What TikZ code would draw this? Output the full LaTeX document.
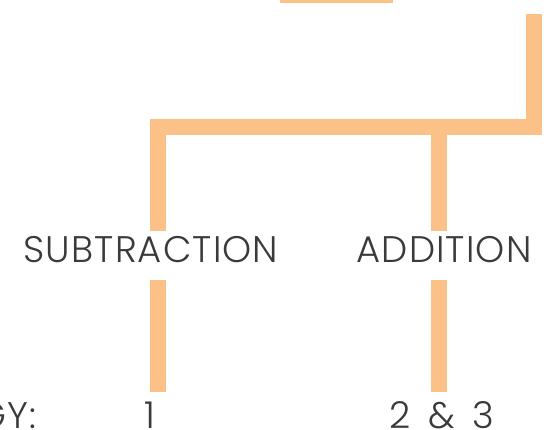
\documentclass[tikz,border=0pt]{standalone}
\usepackage{fontspec}
\setmainfont{Poppins}[UprightFont=* Light, LetterSpace=3]
\definecolor{branch}{HTML}{FBC187}
\definecolor{ink}{HTML}{3A3A3A}
\tikzset{
  twig/.style={draw=branch, line width=16pt},
  word/.style={inner sep=0pt, anchor=base, text=ink,
    font=\fontsize{37}{40}\selectfont, text height=31pt, text depth=18pt},
  digit/.style={word, text height=36pt, text depth=0pt},
}
\begin{document}
\begin{tikzpicture}[x=1pt,y=-1pt]
\useasboundingbox (0,0) rectangle (554,429);
% labels
\node[word] (sub) at (151,262) {SUBTRACTION};
\node[word] (add) at (444,262) {ADDITION};
\node[digit, anchor=base east] (gy) at (37,428) {GY:};
\node[digit] (one) at (150,428) {1};
\node[digit] (both) at (442,428) {2 \,\& \,3};
% branches
\coordinate (top) at (534,14);
\coordinate (knee) at (158,127);
\coordinate (fork) at (439,127);
\draw[twig] (top) |- (knee) -- (knee |- sub.north);
\draw[twig] (fork) -- (fork |- add.north);
\draw[twig] (knee |- sub.south) -- (knee |- one.north);
\draw[twig] (fork |- add.south) -- (fork |- both.north);
\fill[branch] (280,-5) rectangle (393,3);
\end{tikzpicture}
\end{document}
